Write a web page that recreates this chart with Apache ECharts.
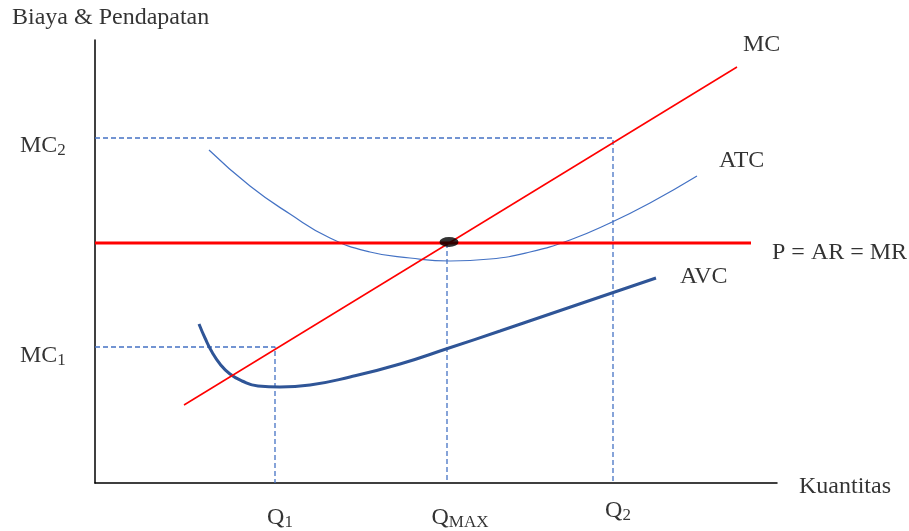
<!DOCTYPE html>
<html>
<head>
<meta charset="utf-8">
<script src="https://cdn.jsdelivr.net/npm/echarts@6/dist/echarts.min.js"></script>
<style>html,body{margin:0;padding:0;background:#fff}#c{width:909px;height:531px}</style>
</head>
<body>
<div id="c"></div>
<script>
// Curve data (quantity, cost) in abstract units
const mcLine = [[89, 78], [642, 416]];
const priceLine = [[0, 240], [656, 240]];
const equilibrium = [[354, 241]];
const atcCurve = [[114,333],[155,297],[195,269],[235,245],[275,231],[315,225],[355,222],[395,224],[435,231],[475,243],[515,260],[555,280],[602,307]];
const avcCurve = [[104,159],[110,145],[117,131],[125,119],[135,109],[147,102],[163,97],[185,96],[215,98],[255,106],[305,119],[354,135],[405,152],[455,169],[505,186],[561,205]];
const mc2Guide = [[0,345],[518,345],[518,0]];
const mc1Guide = [[0,136],[180,136],[180,0]];
const qmaxGuide = [[352,240],[352,0]];
// Text labels: [x, y, text, align]
const yTickLabels = [[-75,337,'{m|MC}{s|2}','left'],[-75,127,'{m|MC}{s|1}','left']];
const xTickLabels = [[185,-35,'{m|Q}{s|1}','center'],[365,-35,'{m|Q}{c|MAX}','center'],[523,-28,'{m|Q}{s|2}','center']];
const curveLabels = [[648,438,'{m|MC}','left'],[624,322,'{m|ATC}','left'],[677,230,'{m|P = AR = MR}','left'],[585,206,'{m|AVC}','left']];
const axisTitles = [[-83,465,'{m|Biaya & Pendapatan}','left'],[704,-4,'{m|Kuantitas}','left']];

const FONT = '"Liberation Serif","Times New Roman",serif';
const rich = {
  m:{fontFamily:FONT,fontSize:24,color:'#000',lineHeight:27},
  s:{fontFamily:FONT,fontSize:17,color:'#000',lineHeight:27,verticalAlign:'bottom',padding:[10,0,0,0]},
  c:{fontFamily:FONT,fontSize:17,color:'#000',lineHeight:27,verticalAlign:'bottom',padding:[6,0,0,0]}
};
function textSeries(arr){
  return {
    type:'scatter', symbolSize:0, clip:false, silent:true, z:10,
    data: arr.map(a=>({value:[a[0],a[1]], label:{show:true, position:'inside', formatter:a[2], align:a[3], verticalAlign:'middle', rich:rich}}))
  };
}
const dash = {color:'#4472C4', width:1.3, type:[5,3]};
const chart = echarts.init(document.getElementById('c'));
chart.setOption({
  animation:false,
  grid:{left:95, right:132, top:40, bottom:48},
  xAxis:{type:'value', min:0, max:682, axisLine:{show:true, onZero:false, lineStyle:{color:'#000', width:1.5}}, axisTick:{show:false}, axisLabel:{show:false}, splitLine:{show:false}},
  yAxis:{type:'value', min:0, max:443, axisLine:{show:true, onZero:false, lineStyle:{color:'#000', width:1.5}}, axisTick:{show:false}, axisLabel:{show:false}, splitLine:{show:false}},
  series:[
    {type:'line', data:mc2Guide, symbol:'none', lineStyle:dash, z:1},
    {type:'line', data:mc1Guide, symbol:'none', lineStyle:dash, z:1},
    {type:'line', data:qmaxGuide, symbol:'none', lineStyle:dash, z:1},
    {type:'line', data:atcCurve, symbol:'none', smooth:true, lineStyle:{color:'#4472C4', width:1.2}, z:2},
    {type:'line', data:avcCurve, symbol:'none', smooth:true, lineStyle:{color:'#2F5597', width:3}, z:3},
    {type:'line', data:priceLine, symbol:'none', lineStyle:{color:'#FF0000', width:3}, z:4},
    {type:'line', data:mcLine, symbol:'none', lineStyle:{color:'#FF0000', width:1.5}, z:5},
    {type:'scatter', data:equilibrium, symbol:'circle', symbolSize:[19,10], itemStyle:{color:'#000'}, z:6},
    textSeries(yTickLabels), textSeries(xTickLabels), textSeries(curveLabels), textSeries(axisTitles)
  ]
});
</script>
</body>
</html>
